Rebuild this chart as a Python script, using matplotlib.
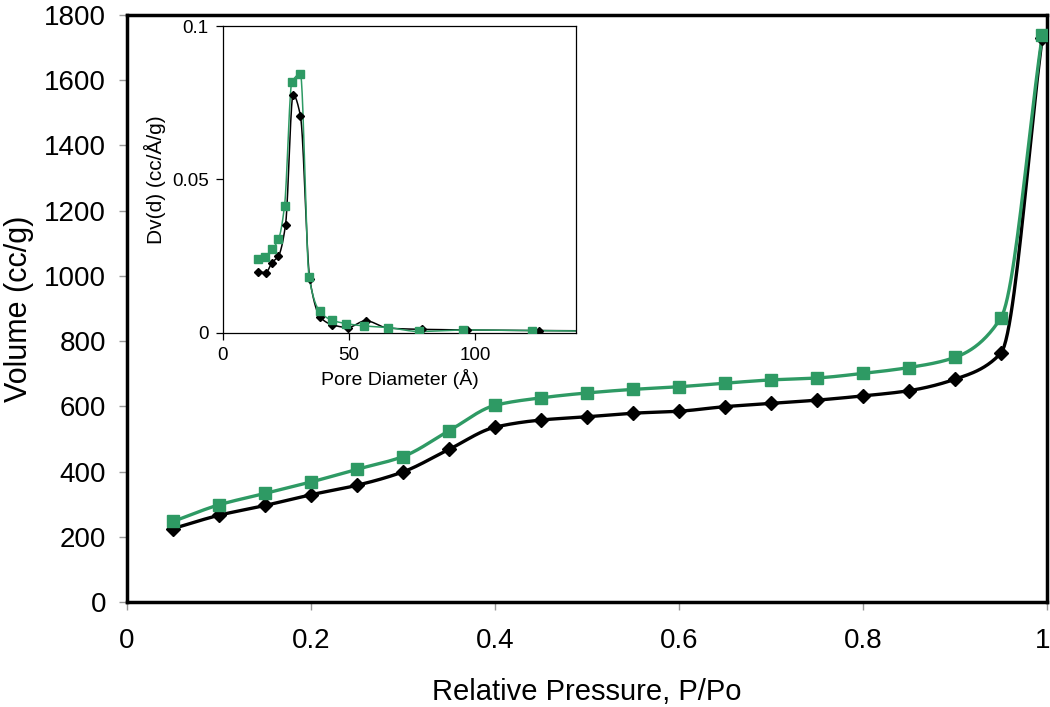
import numpy as np
import matplotlib.pyplot as plt
import matplotlib.transforms as mtransforms

plt.rcParams['font.family'] = ['Liberation Sans', 'DejaVu Sans']

# isotherm data (main plot)
p_rel = [0.05, 0.10, 0.15, 0.20, 0.25, 0.30, 0.35, 0.40, 0.45, 0.50,
         0.55, 0.60, 0.65, 0.70, 0.75, 0.80, 0.85, 0.90, 0.95, 0.995]
vol_black = [225, 266, 296, 329, 358, 399, 468, 536, 558, 568,
             579, 585, 599, 609, 619, 632, 648, 683, 763, 1730]
vol_green = [247, 298, 333, 368, 407, 446, 525, 603, 626, 641,
             652, 660, 671, 681, 687, 701, 719, 750, 871, 1738]

# pore size distribution (inset)
d_black = [14.2, 17.1, 19.5, 22.1, 24.9, 27.9, 30.8, 34.5, 38.7, 43.4,
           49.5, 56.6, 65.5, 78.9, 96.6, 125.0, 150.0]
dv_black = [0.0198, 0.0196, 0.0228, 0.0250, 0.0352, 0.0776, 0.0707, 0.0174, 0.0050, 0.0026,
            0.0017, 0.0039, 0.0015, 0.0011, 0.0009, 0.0007, 0.0006]
d_green = [14.2, 16.8, 19.5, 22.1, 24.5, 27.4, 30.8, 34.2, 38.4, 43.2,
           48.7, 56.1, 65.3, 77.6, 95.3, 122.6, 150.0]
dv_green = [0.0241, 0.0246, 0.0272, 0.0304, 0.0413, 0.0817, 0.0843, 0.0183, 0.0070, 0.0041,
            0.0030, 0.0022, 0.0017, 0.0004, 0.0009, 0.0007, 0.0005]

GREEN = '#2e9a64'


def smooth(x, y, n=25):
    # monotone cubic (pchip) so the line bends through the points without overshoot
    x = np.asarray(x, float)
    y = np.asarray(y, float)
    h = np.diff(x)
    delta = np.diff(y) / h
    d = np.zeros_like(y)
    d[0], d[-1] = delta[0], delta[-1]
    for k in range(1, len(x) - 1):
        if delta[k - 1] * delta[k] > 0:
            w1 = 2 * h[k] + h[k - 1]
            w2 = h[k] + 2 * h[k - 1]
            d[k] = (w1 + w2) / (w1 / delta[k - 1] + w2 / delta[k])
    xs, ys = [], []
    t = np.linspace(0, 1, n, endpoint=False)
    for k in range(len(x) - 1):
        h00 = 2 * t ** 3 - 3 * t ** 2 + 1
        h10 = t ** 3 - 2 * t ** 2 + t
        h01 = -2 * t ** 3 + 3 * t ** 2
        h11 = t ** 3 - t ** 2
        xs.extend(x[k] + t * h[k])
        ys.extend(h00 * y[k] + h10 * h[k] * d[k] + h01 * y[k + 1] + h11 * h[k] * d[k + 1])
    xs.append(x[-1])
    ys.append(y[-1])
    return np.array(xs), np.array(ys)


fig = plt.figure(figsize=(10.5, 7.07), dpi=100)
ax = fig.add_axes([0.121, 0.1485, 0.876, 0.8303])

for x, y, c, m, ms in ((p_rel, vol_black, 'black', 'D', 7.5),
                       (p_rel, vol_green, GREEN, 's', 8.5)):
    sx, sy = smooth(x, y)
    ax.plot(sx, sy, color=c, lw=2.4, zorder=2)
    ax.plot(x, y, ls='none', marker=m, color=c, ms=ms, zorder=3)

ax.set_xlim(0, 1)
ax.set_ylim(0, 1800)
ax.set_xticks([0, 0.2, 0.4, 0.6, 0.8, 1.0])
ax.set_xticklabels(['0', '0.2', '0.4', '0.6', '0.8', '1'])
ax.set_yticks(np.arange(0, 1801, 200))
for s in ax.spines.values():
    s.set_linewidth(2.5)
ax.tick_params(direction='out', length=6, width=1, color='#999999', labelsize=20)
ax.tick_params(axis='x', pad=13)
ax.tick_params(axis='y', pad=9)
# keep the "1" at the right edge inside the picture
last = ax.get_xticklabels()[-1]
last.set_horizontalalignment('right')
last.set_transform(last.get_transform()
                   + mtransforms.ScaledTranslation(4 / 100, 0, fig.dpi_scale_trans))
ax.set_xlabel('Relative Pressure, P/Po', fontsize=21, labelpad=17)
ax.set_ylabel('Volume (cc/g)', fontsize=22)
ax.yaxis.set_label_coords(-0.101, 0.5)

# inset
ins = fig.add_axes([0.212, 0.5294, 0.337, 0.4338])
for x, y, c, m, ms in ((d_black, dv_black, 'black', 'D', 4.5),
                       (d_green, dv_green, GREEN, 's', 5.5)):
    sx, sy = smooth(x, y)
    ins.plot(sx, sy, color=c, lw=1.1, zorder=2)
    ins.plot(x, y, ls='none', marker=m, color=c, ms=ms, zorder=3)

ins.set_xlim(0, 140)
ins.set_ylim(0, 0.1)
ins.set_xticks([0, 50, 100])
ins.set_yticks([0, 0.05, 0.1])
ins.set_yticklabels(['0', '0.05', '0.1'])
for s in ins.spines.values():
    s.set_linewidth(0.9)
ins.tick_params(direction='out', length=5, width=0.9, labelsize=13.5, pad=5)
ins.set_xlabel('Pore Diameter (Å)', fontsize=14, labelpad=4)
ins.set_ylabel('Dv(d) (cc/Å/g)', fontsize=15, labelpad=4)

plt.savefig('out.png', dpi=100)
